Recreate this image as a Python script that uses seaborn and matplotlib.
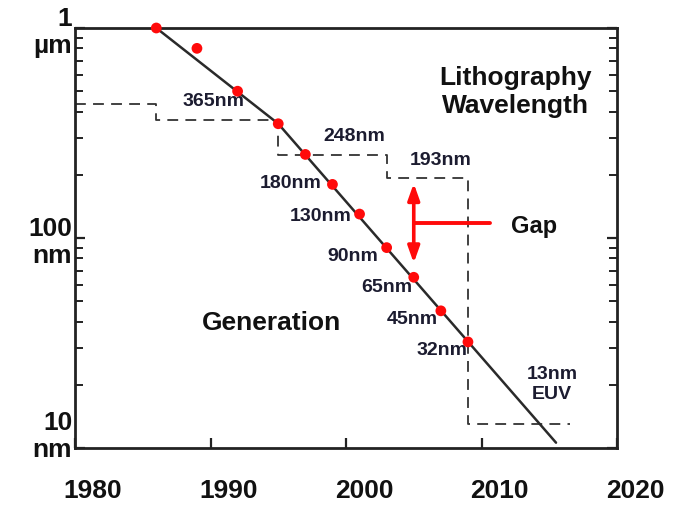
import matplotlib
matplotlib.use("Agg")
import matplotlib.pyplot as plt
import matplotlib.transforms as mtransforms
from matplotlib.ticker import LogLocator, NullFormatter, FixedLocator
import seaborn as sns
import pandas as pd

# Feature size of each technology generation (nm)
gen_years = [1986, 1989, 1992, 1995, 1997, 1999, 2001, 2003, 2005, 2007, 2009]
gen_sizes = [1000, 800, 500, 350, 250, 180, 130, 90, 65, 45, 32]

# Scaling trend (slope steepens after the mid-90s)
trend_years = [1986, 1995, 2015.5]
trend_sizes = [1000, 350, 10.6]

# Lithography wavelength steps (nm), post-step
litho_years = [1980, 1986, 1995, 2003, 2009, 2016.5]
litho_waves = [436, 365, 248, 193, 13, 13]

# Gap between wavelength and feature size
gap_year = 2005
gap_top, gap_bottom = 182, 76
gap_bar_end, gap_level = 2010.6, 117.5

x_ticks = [1980, 1990, 2000, 2010, 2020]
y_ticks = [10, 100, 1000]
y_tick_labels = ["10\nnm", "100\nnm", "1\nµm"]

sns.set_theme(style="ticks")
plt.rcParams["font.family"] = ["Liberation Sans", "DejaVu Sans"]
plt.rcParams["font.weight"] = "bold"

fig = plt.figure(figsize=(6.89, 5.05), dpi=100)
ax = fig.add_axes([75 / 689, 1 - 448 / 505, (617 - 75) / 689, (448 - 28) / 505])

gen = pd.DataFrame({"year": gen_years, "size": gen_sizes})
trend = pd.DataFrame({"year": trend_years, "size": trend_sizes})
litho = pd.DataFrame({"year": litho_years, "wave": litho_waves})

sns.lineplot(data=litho, x="year", y="wave", ax=ax, color="#333333", lw=1.3,
             linestyle=(0, (6, 4)), drawstyle="steps-post", sort=False,
             estimator=None)
sns.lineplot(data=trend, x="year", y="size", ax=ax, color="#2a2a2a", lw=1.8,
             sort=False, estimator=None)
sns.scatterplot(data=gen, x="year", y="size", ax=ax, color="#ff0a0a", s=60,
                edgecolor="none", zorder=5, clip_on=False)

# Gap indicator
ax.annotate("", xy=(gap_year, gap_bottom), xytext=(gap_year, gap_top),
            arrowprops=dict(arrowstyle="<|-|>,head_length=0.7,head_width=0.25",
                            color="#ff0a0a", lw=2.6, mutation_scale=14,
                            shrinkA=0, shrinkB=0))
ax.plot([gap_year, gap_bar_end], [gap_level, gap_level], color="#ff0a0a", lw=2.8)

ax.set_yscale("log")
ax.set_xlim(1980, 2020)
ax.set_ylim(10, 1000)
ax.set_xlabel("")
ax.set_ylabel("")

txt = "#1c1c30"
lab = dict(fontsize=14, fontweight="bold", color=txt, ha="center", va="center")
ax.text(1990.2, 449, "365nm", **lab)
ax.text(2000.6, 303, "248nm", **lab)
ax.text(2007.0, 235, "193nm", **lab)
ax.text(1995.9, 181, "180nm", **lab)
ax.text(1998.15, 127, "130nm", **lab)
ax.text(2000.5, 82, "90nm", **lab)
ax.text(2003.0, 57.8, "65nm", **lab)
ax.text(2004.9, 40.7, "45nm", **lab)
ax.text(2007.1, 29, "32nm", **lab)
ax.text(2015.2, 20, "13nm\nEUV", **lab)
ax.text(2012.5, 495, "Lithography\nWavelength", fontsize=19, fontweight="bold",
        color="#111111", ha="center", va="center")
ax.text(1994.5, 39.4, "Generation", fontsize=19, fontweight="bold",
        color="#111111", ha="center", va="center")
ax.text(2012.2, 114, "Gap", fontsize=17, fontweight="bold",
        color="#111111", ha="left", va="center")

# Axes frame and ticks
for side in ["left", "right", "top", "bottom"]:
    ax.spines[side].set_visible(True)
    ax.spines[side].set_linewidth(2.0)
    ax.spines[side].set_color("#222222")

ax.xaxis.set_major_locator(FixedLocator(x_ticks))
ax.set_xticklabels([str(v) for v in x_ticks])
ax.yaxis.set_major_locator(FixedLocator(y_ticks))
ax.set_yticklabels(y_tick_labels, multialignment="right")
ax.yaxis.set_minor_locator(LogLocator(base=10, subs=range(2, 10)))
ax.yaxis.set_minor_formatter(NullFormatter())

ax.tick_params(axis="x", which="major", direction="in", length=7, width=1.6,
               labelsize=19, pad=22, colors="#222222", labelcolor="#111111")
ax.tick_params(axis="y", which="major", direction="in", length=7, width=1.6,
               labelsize=19, pad=2, right=True, colors="#222222",
               labelcolor="#111111")
ax.tick_params(axis="y", which="minor", direction="in", length=5.5, width=1.4,
               right=True, colors="#222222")
for t in ax.get_xticklabels() + ax.get_yticklabels():
    t.set_fontweight("bold")

# Shift year labels a little to the right
dx = mtransforms.ScaledTranslation(18 / 100, 0, fig.dpi_scale_trans)
for t in ax.get_xticklabels():
    t.set_transform(t.get_transform() + dx)
# Lift the lowest size label above the corner
dy = mtransforms.ScaledTranslation(0, 16 / 100, fig.dpi_scale_trans)
lowest = ax.get_yticklabels()[0]
lowest.set_transform(lowest.get_transform() + dy)

fig.savefig("out.png", dpi=100, facecolor="white")
